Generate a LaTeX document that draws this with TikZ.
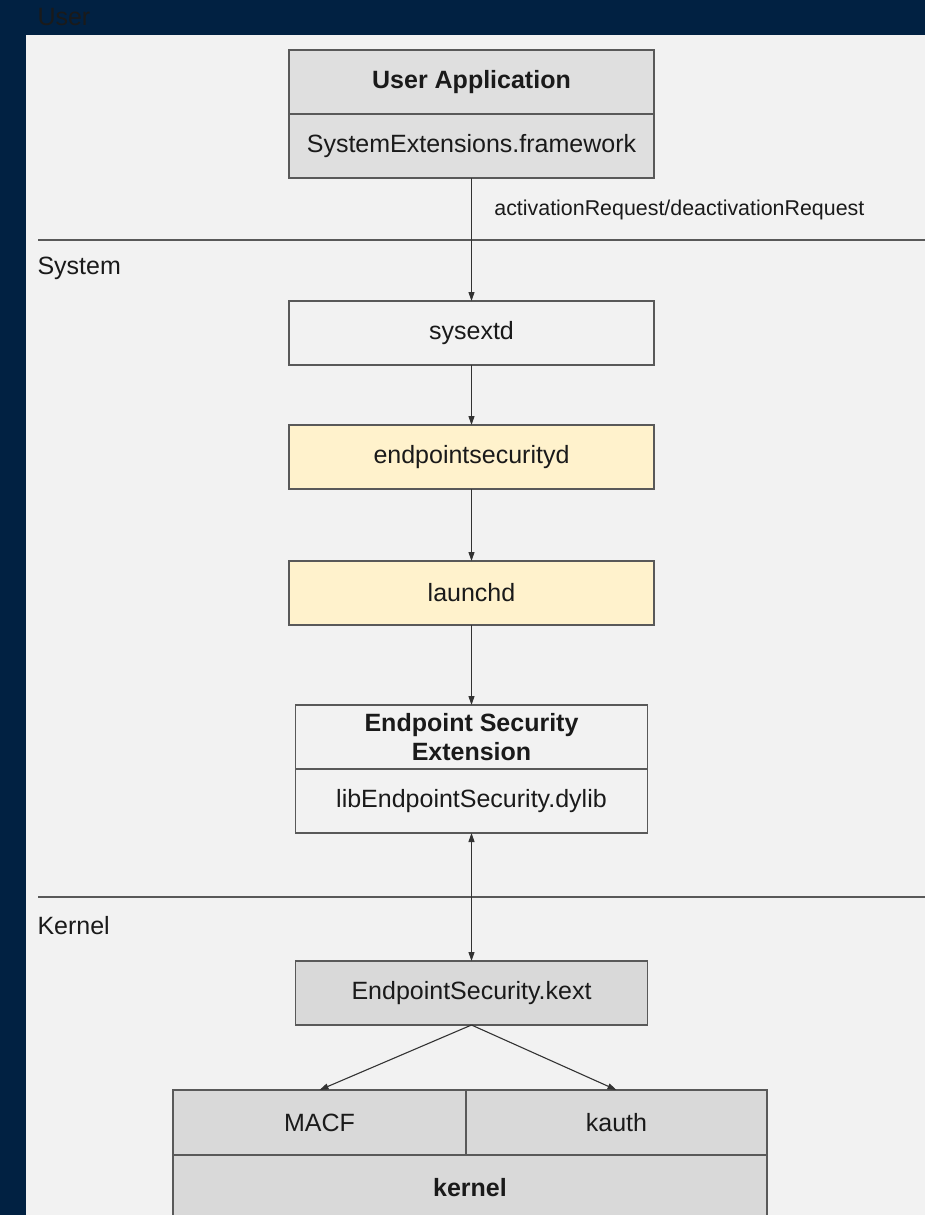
\documentclass[tikz,border=0pt]{standalone}
\usepackage{fontspec}
\setmainfont{Liberation Sans}
\usetikzlibrary{positioning,arrows.meta}

\definecolor{navy}{HTML}{012142}
\definecolor{panel}{HTML}{F2F2F2}
\definecolor{greyA}{HTML}{DFDFDF}
\definecolor{greyB}{HTML}{D9D9D9}
\definecolor{sand}{HTML}{FFF2CC}
\definecolor{edge}{HTML}{595959}
\definecolor{wire}{HTML}{333333}
\definecolor{ink}{HTML}{1A1A1A}

\begin{document}
\begin{tikzpicture}[
    x=1pt, y=-1pt,
    box/.style={rectangle, draw=edge, line width=1.2pt, inner sep=0pt, outer sep=0pt, minimum width=365pt, minimum height=64pt, text=ink, font=\fontsize{25}{29}\selectfont, align=center},
    userbox/.style={box, fill=greyA},
    plainbox/.style={box, fill=panel},
    daemon/.style={box, fill=sand},
    kbox/.style={box, fill=greyB},
    arrow/.style={-{Triangle[length=9pt,width=6pt]}, line width=1.1pt, draw=wire},
    layer/.style={anchor=west, text=ink, font=\fontsize{25}{29}\selectfont},
    divider/.style={line width=1.3pt, draw=edge},
    reqlabel/.style={text=ink, font=\fontsize{21.4}{25}\selectfont}
]
\useasboundingbox (0,0) rectangle (925,1215);
\clip (0,0) rectangle (925,1215);

% --- Background ---
\fill[navy] (0,0) rectangle (925,1215);
\fill[panel] (26,35) rectangle (925,1215);

% --- Layers ---
\node[layer] (userlbl) at (34,17) {User};
\node[layer] (syslbl) at (34,268) {System};
\node[layer] (kernlbl) at (34,926) {Kernel};
\coordinate (sysL) at (38,240);
\coordinate (sysR) at (925,240);
\coordinate (kernL) at (38,897);
\coordinate (kernR) at (925,897);
\draw[divider] (sysL) -- (sysR);
\draw[divider] (kernL) -- (kernR);

% --- User ---
\node[userbox, font=\fontsize{25}{29}\selectfont\bfseries] (userapp) at (471.5,82) {User Application};
\node[userbox, below=0pt of userapp] (sysfw) {SystemExtensions.framework};

% --- System ---
\node[plainbox, below=123pt of sysfw] (sysextd) {sysextd};
\node[daemon, below=60pt of sysextd] (esd) {endpointsecurityd};
\node[daemon, below=72pt of esd] (launchd) {launchd};
\node[plainbox, minimum width=352pt, below=80pt of launchd, font=\fontsize{25}{29}\selectfont\bfseries] (esext) {Endpoint Security\\Extension};
\node[plainbox, minimum width=352pt, below=0pt of esext] (eslib) {libEndpointSecurity.dylib};

% --- Kernel ---
\node[kbox, minimum width=352pt, below=128pt of eslib] (kext) {EndpointSecurity.kext};
\node[kbox, minimum width=293pt, minimum height=65pt, anchor=north west] (macf) at (173,1090) {MACF};
\node[kbox, minimum width=301pt, minimum height=65pt, right=0pt of macf] (kauth) {kauth};
\node[kbox, minimum width=594pt, minimum height=80pt, anchor=north west, font=\fontsize{25}{29}\selectfont\bfseries, text depth=0pt] (kernel) at (macf.south west) {\raisebox{15pt}{kernel}};

% --- Arrows ---
\draw[arrow] (sysfw) -- (sysextd) node[pos=0.26, right=19pt, reqlabel] {activationRequest/deactivationRequest};
\draw[arrow] (sysextd) -- (esd);
\draw[arrow] (esd) -- (launchd);
\draw[arrow] (launchd) -- (esext);
\draw[arrow, {Triangle[length=9pt,width=6pt]}-{Triangle[length=9pt,width=6pt]}] (eslib) -- (kext);
\draw[arrow] (kext.south) -- (macf.north);
\draw[arrow] (kext.south) -- (kauth.north);

\end{tikzpicture}
\end{document}
